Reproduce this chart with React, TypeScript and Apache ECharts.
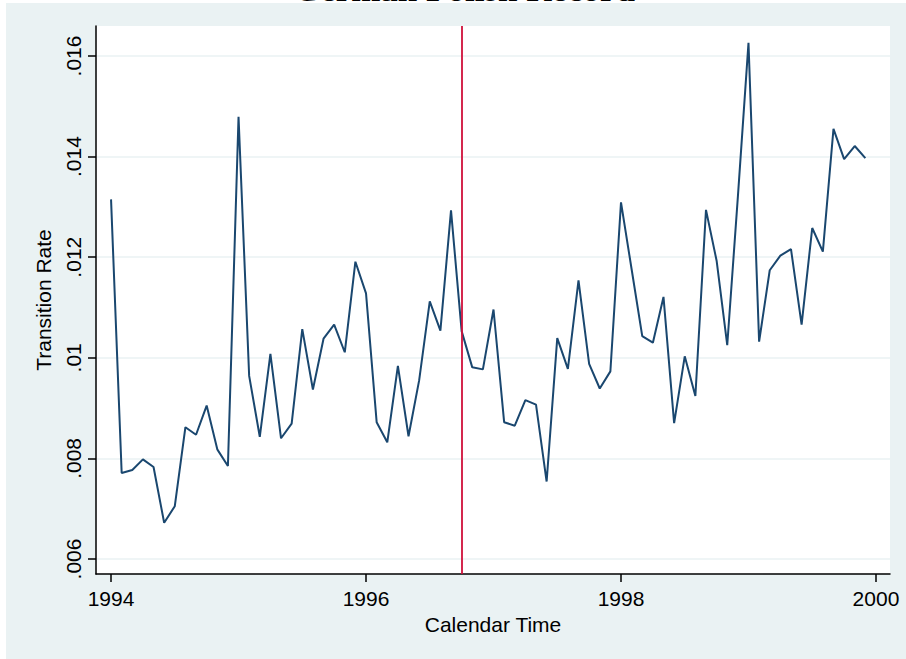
import React, { useEffect, useRef } from "react";
import * as echarts from "echarts";

const titleText = "German Polish Record";
const xAxisName = "Calendar Time";
const yAxisName = "Transition Rate";

const startYear = 1994;
// Monthly transition rates, Jan 1994 .. Dec 1999
const rates1994 = [0.01315, 0.00771, 0.00777, 0.00798, 0.00783, 0.00672, 0.00705, 0.00862, 0.00847, 0.00905, 0.00818, 0.00785];
const rates1995 = [0.01479, 0.00964, 0.00843, 0.01008, 0.0084, 0.00869, 0.01057, 0.00937, 0.01038, 0.01066, 0.01011, 0.01191];
const rates1996 = [0.01128, 0.00872, 0.00832, 0.00984, 0.00844, 0.00955, 0.01112, 0.01054, 0.01293, 0.01053, 0.00981, 0.00977];
const rates1997 = [0.01096, 0.00872, 0.00865, 0.00916, 0.00907, 0.00754, 0.01039, 0.00978, 0.01154, 0.00988, 0.00939, 0.00973];
const rates1998 = [0.01309, 0.01176, 0.01043, 0.0103, 0.01121, 0.0087, 0.01003, 0.00924, 0.01294, 0.01193, 0.01025, 0.0132];
const rates1999 = [0.01626, 0.01032, 0.01174, 0.01203, 0.01216, 0.01066, 0.01258, 0.01211, 0.01455, 0.01395, 0.01421, 0.01397];

const cutoffTime = 1996.75;

const xTickValues = [1994, 1996, 1998, 2000];
const yTickValues = [0.006, 0.008, 0.01, 0.012, 0.014, 0.016];
const yTickLabels = [".006", ".008", ".01", ".012", ".014", ".016"];

const xMin = 1993.882;
const xMax = 2000.11;
const yMin = 0.005702;
const yMax = 0.016596;

export default function App() {
  const ref = useRef<HTMLDivElement>(null);

  useEffect(() => {
    document.body.style.margin = "0";
    if (!ref.current) return;
    const chart = echarts.init(ref.current, undefined, { renderer: "svg" });

    const allRates = [...rates1994, ...rates1995, ...rates1996, ...rates1997, ...rates1998, ...rates1999];
    const seriesData = allRates.map((v, i) => [startYear + i / 12, v]);

    const font = "Liberation Sans";

    chart.setOption({
      animation: false,
      backgroundColor: "#eaf2f3",
      graphic: [
        { type: "rect", shape: { x: 0, y: 0, width: 906, height: 3 }, style: { fill: "#ffffff" }, z: 1 },
        { type: "rect", shape: { x: 0, y: 0, width: 6, height: 659 }, style: { fill: "#ffffff" }, z: 1 },
        {
          type: "text",
          x: 464,
          y: 7,
          z: 5,
          style: {
            text: titleText,
            font: 'bold 35px "Liberation Serif"',
            fill: "#000000",
            textAlign: "center",
            textVerticalAlign: "bottom",
          },
        },
      ],
      grid: {
        left: 96,
        top: 26,
        right: 16,
        bottom: 85,
        show: true,
        backgroundColor: "#ffffff",
        borderWidth: 0,
      },
      xAxis: {
        type: "value",
        min: xMin,
        max: xMax,
        name: xAxisName,
        nameLocation: "middle",
        nameGap: 34,
        nameTextStyle: { fontFamily: font, fontSize: 21, color: "#000" },
        axisLine: { show: true, onZero: false, lineStyle: { color: "#000", width: 1.5 } },
        axisTick: { show: true, length: 8, lineStyle: { color: "#000", width: 1.5 }, customValues: xTickValues },
        axisLabel: {
          fontFamily: font,
          fontSize: 21,
          color: "#000",
          margin: 14,
          customValues: xTickValues,
          formatter: (v: number) => String(Math.round(v)),
        },
        splitLine: { show: false },
      },
      yAxis: {
        type: "value",
        min: yMin,
        max: yMax,
        name: yAxisName,
        nameLocation: "middle",
        nameGap: 42,
        nameTextStyle: { fontFamily: font, fontSize: 21, color: "#000" },
        axisLine: { show: true, onZero: false, lineStyle: { color: "#000", width: 1.5 } },
        axisTick: { show: true, length: 8, lineStyle: { color: "#000", width: 1.5 }, customValues: yTickValues },
        axisLabel: {
          fontFamily: font,
          fontSize: 21,
          color: "#000",
          margin: 12,
          rotate: 90,
          customValues: yTickValues,
          formatter: (v: number) => {
            let best = 0;
            yTickValues.forEach((t, i) => {
              if (Math.abs(t - v) < Math.abs(yTickValues[best] - v)) best = i;
            });
            return yTickLabels[best];
          },
        },
        splitLine: { show: true, lineStyle: { color: "#eaf2f3", width: 1.5 } },
      },
      series: [
        {
          type: "line",
          data: seriesData,
          showSymbol: false,
          symbol: "none",
          lineStyle: { color: "#1a476f", width: 2 },
          markLine: {
            silent: true,
            symbol: ["none", "none"],
            label: { show: false },
            lineStyle: { color: "#d0103a", width: 1.8, type: "solid" },
            data: [{ xAxis: cutoffTime }],
          },
        },
      ],
    });

    return () => chart.dispose();
  }, []);

  return <div ref={ref} style={{ width: 906, height: 659 }} />;
}
